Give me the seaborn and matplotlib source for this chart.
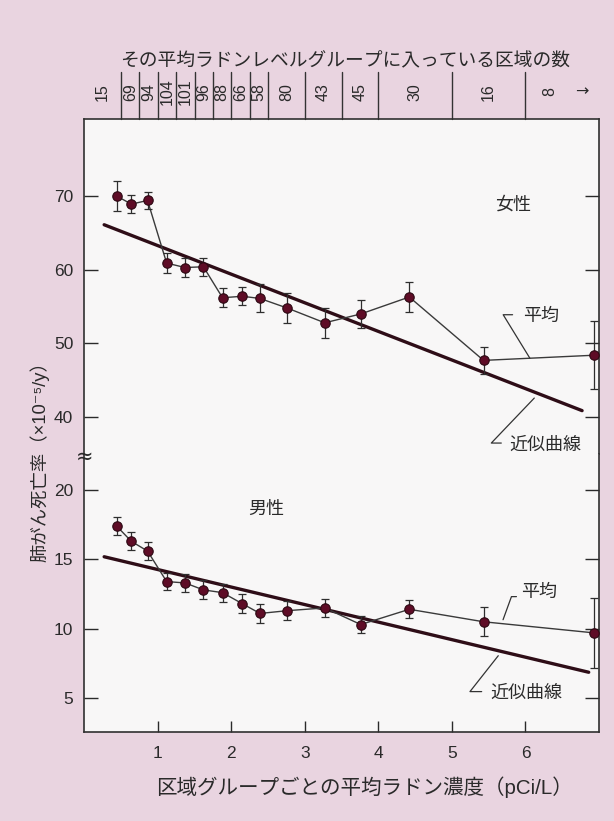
import numpy as np
import matplotlib
matplotlib.use("Agg")
import matplotlib.pyplot as plt
import matplotlib.transforms as mtransforms
import seaborn as sns

# Mean radon level of each county group (pCi/L)
radon = [0.44, 0.64, 0.86, 1.12, 1.37, 1.62, 1.88, 2.15, 2.39, 2.76, 3.27, 3.76, 4.42, 5.43, 6.93]
# Number of counties in each group, and the group boundaries (pCi/L)
counties = ["15", "69", "94", "104", "101", "96", "88", "66", "58", "80", "43", "45", "30", "16", "8"]
group_edges = [0, 0.5, 0.75, 1.0, 1.25, 1.5, 1.75, 2.0, 2.25, 2.5, 3.0, 3.5, 4.0, 5.0, 6.0, 7.0]

# Lung cancer mortality (x10^-5 per year) with standard errors
female_rate = [70.0, 68.9, 69.4, 60.9, 60.3, 60.4, 56.2, 56.4, 56.1, 54.8, 52.8, 54.0, 56.3, 47.7, 48.4]
female_err = [2.0, 1.2, 1.2, 1.4, 1.25, 1.2, 1.3, 1.2, 1.9, 2.0, 2.0, 1.9, 2.0, 1.8, 4.6]
male_rate = [17.4, 16.3, 15.6, 13.4, 13.3, 12.8, 12.6, 11.8, 11.1, 11.3, 11.5, 10.3, 11.4, 10.5, 9.7]
male_err = [0.65, 0.65, 0.63, 0.63, 0.68, 0.68, 0.66, 0.70, 0.68, 0.70, 0.66, 0.63, 0.66, 1.03, 2.5]

# Fitted straight lines: (intercept, slope) and the x range they cover
female_fit = (67.15, -3.88)
male_fit = (15.53, -1.264)
female_fit_span = (0.27, 6.77)
male_fit_span = (0.27, 6.86)

x_ticks = [1, 2, 3, 4, 5, 6]
female_yticks = [40, 50, 60, 70]
male_yticks = [5, 10, 15, 20]

sns.set_theme(style="ticks")
plt.rcParams["font.family"] = ["Liberation Sans", "Noto Sans CJK JP", "DejaVu Sans"]

PINK = "#e9d4e0"
PANEL = "#f8f7f7"
INK = "#2a2a2a"
DOT = "#5e0c26"
DOT_EDGE = "#2c0812"
FIT = "#2e0d17"

fig = plt.figure(figsize=(6.14, 8.21), dpi=100, facecolor=PINK)
L, R = 84.3 / 614, 599 / 614
T, S, B = 1 - 119 / 821, 1 - 454 / 821, 1 - 732 / 821
ax_f = fig.add_axes([L, S, R - L, T - S])
ax_m = fig.add_axes([L, B, R - L, S - B])


def draw_panel(ax, rate, err, fit, span):
    ax.set_facecolor(PANEL)
    xs = np.array(span)
    sns.lineplot(x=xs, y=fit[0] + fit[1] * xs, ax=ax, color=FIT, lw=2.4,
                 zorder=2, legend=False)
    sns.lineplot(x=radon, y=rate, ax=ax, color="#3a3a3a", lw=1.0, sort=False,
                 estimator=None, zorder=3, legend=False)
    ax.errorbar(radon, rate, yerr=err, fmt="none", ecolor="#2e2e2e",
                elinewidth=0.9, capsize=3.2, capthick=0.9, zorder=4, clip_on=False)
    sns.scatterplot(x=radon, y=rate, ax=ax, s=46, color=DOT, edgecolor=DOT_EDGE,
                    linewidth=0.8, zorder=5, legend=False, clip_on=False)
    ax.set_xlim(0, 7)
    for sp in ax.spines.values():
        sp.set_color("#303030")
        sp.set_linewidth(1.2)
    ax.tick_params(axis="y", direction="in", length=10, width=1.0, left=True,
                   right=True, labelsize=12.5, pad=8, colors=INK)
    ax.set_xlabel("")
    ax.set_ylabel("")


draw_panel(ax_f, female_rate, female_err, female_fit, female_fit_span)
draw_panel(ax_m, male_rate, male_err, male_fit, male_fit_span)

ax_f.set_ylim(35.0, 80.45)
ax_m.set_ylim(2.55, 22.6)
ax_f.set_yticks(female_yticks)
ax_m.set_yticks(male_yticks)
ax_f.spines["bottom"].set_visible(False)
ax_m.spines["top"].set_visible(False)
ax_f.tick_params(axis="x", bottom=False, top=False, labelbottom=False)
ax_m.set_xticks(x_ticks)
ax_m.tick_params(axis="x", direction="in", length=8, width=1.0, bottom=True,
                 top=False, labelsize=12.5, pad=10, colors=INK)

# County counts above the upper panel, separated at the group boundaries
strip = mtransforms.blended_transform_factory(ax_f.transData, ax_f.transAxes)
for e in group_edges[1:-1]:
    ax_f.plot([e, e], [1.0, 1.14], transform=strip, color="#333333", lw=1.0,
              clip_on=False)
mids = [(a + b) / 2 for a, b in zip(group_edges[:-1], group_edges[1:])]
for m, c in zip(mids[:-1], counties[:-1]):
    ax_f.text(m, 1.081, c, rotation=90, ha="center", va="center", fontsize=11.5,
              color=INK, transform=strip)
ax_f.text(mids[-1] - 0.17, 1.081, counties[-1], rotation=90, ha="center",
          va="center", fontsize=11.5, color=INK, transform=strip)
ax_f.text(mids[-1] + 0.27, 1.081, "→", ha="center", va="center", fontsize=11.5,
          color=INK, transform=strip, family=["DejaVu Sans"])

fig.text(0.562, 0.9248, "その平均ラドンレベルグループに入っている区域の数",
         ha="center", va="center", fontsize=13.5, color=INK)
fig.text(0.593, 0.0414, "区域グループごとの平均ラドン濃度（pCi/L）",
         ha="center", va="center", fontsize=14.8, color=INK)
fig.text(40 / 614, 1 - 457 / 821, "肺がん死亡率（×10⁻⁵/y）", rotation=90,
         ha="center", va="center", fontsize=13.2, color=INK)
fig.text(L, S - 3 / 821, "≈", ha="center", va="center", fontsize=15,
         color=INK, family=["DejaVu Sans"])

# Panel names
ax_f.text(5.83, 68.8, "女性", ha="center", va="center", fontsize=13, color=INK)
ax_m.text(2.47, 18.6, "男性", ha="center", va="center", fontsize=13, color=INK)


def leader(ax, anchor, pts, label, text_off):
    """Callout line given as pixel offsets from an anchor point on a curve."""
    base = ax.transData.transform(anchor)
    path = np.array([base + np.array(p) for p in pts])
    data = ax.transData.inverted().transform(path)
    ax.plot(data[:, 0], data[:, 1], color="#333333", lw=0.9, clip_on=False,
            zorder=6)
    tx, ty = ax.transData.inverted().transform(base + np.array(text_off))
    ax.text(tx, ty, label, ha="left", va="center", fontsize=13, color=INK)


xa = 6.06
leader(ax_f, (xa, np.interp(xa, radon, female_rate)),
       [(0, 0), (-26.7, 43.5), (-17.3, 43.5)], "平均", (-6.7, 41.8))
xa = 5.695
leader(ax_m, (xa, np.interp(xa, radon, male_rate)),
       [(0, 4), (8.4, 27.1), (13.4, 27.1)], "平均", (18.4, 31.1))
xa = 6.12
leader(ax_f, (xa, female_fit[0] + female_fit[1] * xa),
       [(0, -6), (-43, -51), (-33, -51)], "近似曲線", (-25, -53))
xa = 5.63
leader(ax_m, (xa, male_fit[0] + male_fit[1] * xa),
       [(0, -5), (-28.3, -40.9), (-16.6, -40.9)], "近似曲線", (-8.3, -42.2))

fig.savefig("out.png", dpi=100, facecolor=PINK)
